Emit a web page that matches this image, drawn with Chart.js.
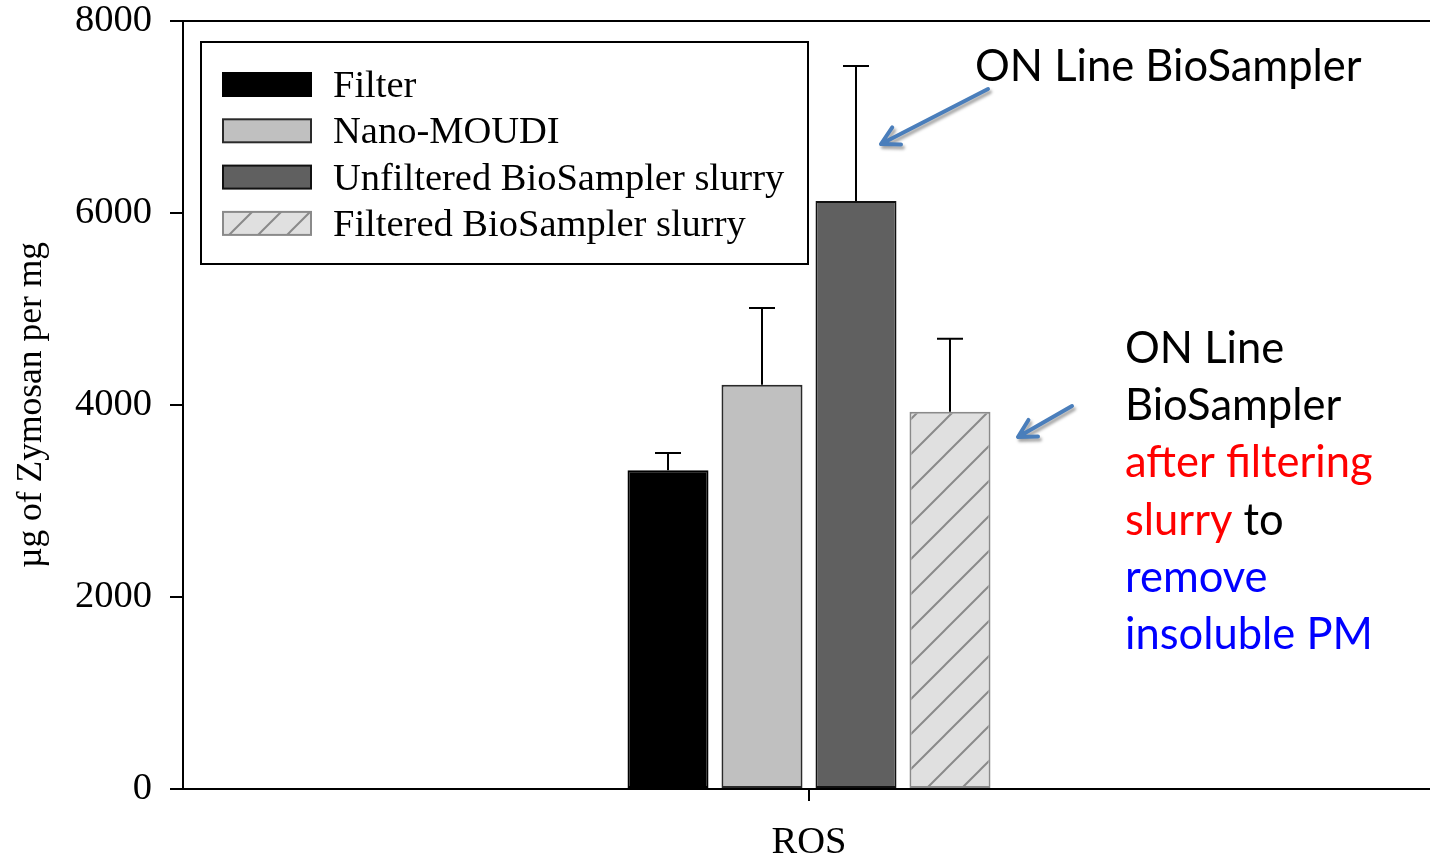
<!DOCTYPE html>
<html>
<head>
<meta charset="utf-8">
<script src="https://cdn.jsdelivr.net/npm/chart.js@4.4.1/dist/chart.umd.min.js"></script>
<style>
  html, body { margin: 0; padding: 0; background: #fff; overflow: hidden; }
  #wrap { width: 1430px; height: 856px; overflow: hidden; }
</style>
</head>
<body>
<div id="wrap"><canvas id="c" width="1435" height="856"></canvas></div>
<script>
// data
const categories = ['ROS'];
const seriesNames = ['Filter', 'Nano-MOUDI', 'Unfiltered BioSampler slurry', 'Filtered BioSampler slurry'];
const filterVals = [3320];
const nanoVals = [4210];
const unfilteredVals = [6125];
const filteredVals = [3930];
const filterErr = [180];
const nanoErr = [800];
const unfilteredErr = [1405];
const filteredErr = [760];
const yTicks = [0, 2000, 4000, 6000, 8000];

const SERIF = '"Liberation Serif", "Times New Roman", serif';
const SANS = 'Lato, "Open Sans", sans-serif';

function hatch(size, color, bg) {
  const c = document.createElement('canvas');
  c.width = c.height = size;
  const g = c.getContext('2d');
  g.fillStyle = bg;
  g.fillRect(0, 0, size, size);
  g.strokeStyle = color;
  g.lineWidth = 2;
  g.beginPath();
  g.moveTo(0, size); g.lineTo(size, 0);
  g.moveTo(-3, 3); g.lineTo(3, -3);
  g.moveTo(size - 3, size + 3); g.lineTo(size + 3, size - 3);
  g.stroke();
  return g.createPattern(c, 'repeat');
}

const ctx0 = document.getElementById('c').getContext('2d');
const hatchBar = hatch(35, '#8a8a8a', '#e0e0e0');
const hatchLeg = hatch(29, '#8a8a8a', '#e0e0e0');

const datasets = [
  { label: seriesNames[0], data: filterVals, err: filterErr, backgroundColor: '#000000', borderColor: '#000000', legFill: '#000000' },
  { label: seriesNames[1], data: nanoVals, err: nanoErr, backgroundColor: '#c0c0c0', borderColor: '#2a2a2a', legFill: '#c0c0c0' },
  { label: seriesNames[2], data: unfilteredVals, err: unfilteredErr, backgroundColor: '#606060', borderColor: '#111111', legFill: '#606060' },
  { label: seriesNames[3], data: filteredVals, err: filteredErr, backgroundColor: hatchBar, borderColor: '#8a8a8a', legFill: hatchLeg }
].map(d => Object.assign(d, {
  borderWidth: 2,
  borderSkipped: false,
  barPercentage: 0.862,
  categoryPercentage: 0.3003
}));

// error bars (upper only) through the y scale
const errorBars = {
  id: 'errorBars',
  afterDatasetsDraw(chart) {
    const ctx = chart.ctx, y = chart.scales.y;
    ctx.save();
    ctx.strokeStyle = '#000';
    ctx.lineWidth = 2;
    chart.data.datasets.forEach((ds, i) => {
      chart.getDatasetMeta(i).data.forEach((bar, j) => {
        const top = y.getPixelForValue(ds.data[j] + ds.err[j]);
        ctx.beginPath();
        ctx.moveTo(bar.x, bar.y);
        ctx.lineTo(bar.x, top);
        ctx.moveTo(bar.x - 13, top);
        ctx.lineTo(bar.x + 13, top);
        ctx.stroke();
      });
    });
    ctx.restore();
  }
};

function arrow(ctx, x1, y1, x2, y2) {
  const a = Math.atan2(y2 - y1, x2 - x1), h = 20;
  ctx.beginPath();
  ctx.moveTo(x1, y1);
  ctx.lineTo(x2, y2);
  ctx.moveTo(x2 - h * Math.cos(a - 0.5), y2 - h * Math.sin(a - 0.5));
  ctx.lineTo(x2, y2);
  ctx.lineTo(x2 - h * Math.cos(a + 0.5), y2 - h * Math.sin(a + 0.5));
  ctx.stroke();
}

const decor = {
  id: 'decor',
  afterDraw(chart) {
    const ctx = chart.ctx, ca = chart.chartArea;
    ctx.save();
    // top spine
    ctx.strokeStyle = '#000';
    ctx.lineWidth = 2;
    ctx.beginPath();
    ctx.moveTo(ca.left, ca.top);
    ctx.lineTo(chart.width, ca.top);
    ctx.stroke();

    // legend box
    ctx.fillStyle = '#fff';
    ctx.fillRect(201, 42, 607, 222);
    ctx.strokeRect(201, 42, 607, 222);
    ctx.font = '38.5px ' + SERIF;
    ctx.textBaseline = 'middle';
    chart.data.datasets.forEach((ds, i) => {
      const yy = 73 + i * 46.3;
      ctx.fillStyle = ds.legFill;
      ctx.fillRect(223, yy, 88, 23);
      ctx.strokeStyle = ds.borderColor;
      ctx.lineWidth = 2;
      ctx.strokeRect(223, yy, 88, 23);
      ctx.fillStyle = '#000';
      ctx.fillText(ds.label, 333, yy + 14);
    });

    // annotations
    ctx.textBaseline = 'alphabetic';
    ctx.font = '43.5px ' + SANS;
    ctx.fillStyle = '#000';
    ctx.fillText('ON Line BioSampler', 975, 81);
    const lines = [
      [['ON Line', '#000']],
      [['BioSampler', '#000']],
      [['after filtering', '#ff0000']],
      [['slurry', '#ff0000'], [' to', '#000']],
      [['remove', '#0000ff']],
      [['insoluble PM', '#0000ff']]
    ];
    lines.forEach((parts, k) => {
      let x = 1125;
      const yb = 363 + k * 57.2;
      parts.forEach(([t, c]) => {
        ctx.fillStyle = c;
        ctx.fillText(t, x, yb);
        x += ctx.measureText(t).width;
      });
    });

    // arrows
    ctx.strokeStyle = '#4a7ebb';
    ctx.lineWidth = 4;
    ctx.lineCap = 'round';
    ctx.lineJoin = 'round';
    ctx.shadowColor = 'rgba(0,0,0,0.35)';
    ctx.shadowOffsetX = 2;
    ctx.shadowOffsetY = 3;
    ctx.shadowBlur = 3;
    arrow(ctx, 988, 89, 881, 144);
    arrow(ctx, 1072, 406, 1018, 437);
    ctx.restore();
  }
};

new Chart(ctx0, {
  type: 'bar',
  data: { labels: categories, datasets },
  options: {
    responsive: false,
    animation: false,
    layout: { padding: { top: 21, right: 0, left: 0, bottom: 0 } },
    plugins: { legend: { display: false }, tooltip: { enabled: false } },
    scales: {
      x: {
        afterFit: s => { s.height = 67; s.paddingLeft = 0; s.paddingRight = 0; },
        border: { display: true, color: '#000', width: 2 },
        grid: { offset: false, drawOnChartArea: false, drawTicks: true, tickLength: 12, color: '#000', lineWidth: 2 },
        ticks: { color: '#000', font: { family: SERIF, size: 38.5 }, padding: 19 }
      },
      y: {
        min: 0,
        max: 8000,
        afterFit: s => { s.width = 183; s.paddingTop = 0; s.paddingBottom = 0; },
        afterBuildTicks: s => { s.ticks = yTicks.map(v => ({ value: v })); },
        border: { display: true, color: '#000', width: 2 },
        grid: { drawOnChartArea: false, drawTicks: true, tickLength: 13, color: '#000', lineWidth: 2 },
        ticks: { color: '#000', font: { family: SERIF, size: 38.5 }, padding: 18, callback: v => String(v) },
        title: {
          display: true,
          text: 'µg of Zymosan per mg',
          color: '#000',
          font: { family: SERIF, size: 35.5 },
          padding: { top: 10, bottom: 0 }
        }
      }
    }
  },
  plugins: [errorBars, decor]
});
</script>
</body>
</html>
